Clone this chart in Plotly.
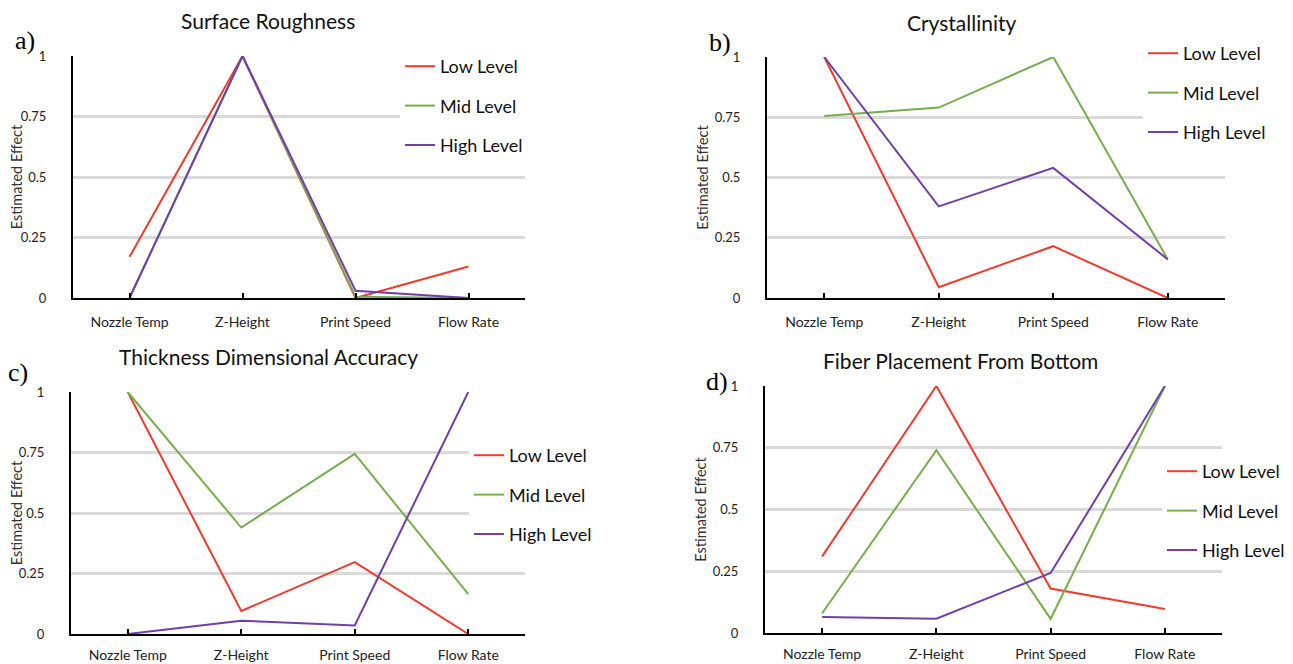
import plotly.graph_objects as go

categories = ["Nozzle Temp", "Z-Height", "Print Speed", "Flow Rate"]
series_names = ["Low Level", "Mid Level", "High Level"]
y_ticks = [0, 0.25, 0.5, 0.75, 1]
y_tick_labels = ["0", "0.25", "0.5", "0.75", "1"]

titles = ["Surface Roughness", "Crystallinity", "Thickness Dimensional Accuracy", "Fiber Placement From Bottom"]
panel_labels = ["a)", "b)", "c)", "d)"]

# Surface Roughness
a_low = [0.17, 1.0, 0.0, 0.13]
a_mid = [0.0, 1.0, 0.005, 0.0]
a_high = [0.0, 1.0, 0.03, 0.0]
# Crystallinity
b_low = [1.0, 0.045, 0.215, 0.0]
b_mid = [0.755, 0.79, 1.0, 0.16]
b_high = [1.0, 0.38, 0.54, 0.16]
# Thickness Dimensional Accuracy
c_low = [1.0, 0.095, 0.297, 0.0]
c_mid = [1.0, 0.44, 0.744, 0.165]
c_high = [0.0, 0.055, 0.035, 1.0]
# Fiber Placement From Bottom
d_low = [0.31, 1.0, 0.18, 0.097]
d_mid = [0.08, 0.74, 0.057, 1.0]
d_high = [0.065, 0.058, 0.243, 1.0]

panel_data = [
    (a_low, a_mid, a_high),
    (b_low, b_mid, b_high),
    (c_low, c_mid, c_high),
    (d_low, d_mid, d_high),
]

colors = ["#ef3b30", "#77ad4f", "#7040a6"]

# page has an 8px body margin: shift everything by -8 px
OFF = 8
W, H = 1293 - OFF, 664 - OFF
# pixel geometry (screen px) of each panel: x_left, x_right, y_top(value 1), y_bottom(value 0)
geom = [
    (73, 525, 56, 298),
    (767, 1225, 57, 298),
    (71, 525, 392, 634),
    (765, 1222, 386, 633),
]
xlabel_standoff = [10, 10, 7, 7]
# legend top-left (screen px)
legend_pos = [(400, 48), (1143, 35), (469, 437), (1162, 453)]
title_pos = [(268, 20), (962, 22), (268, 356), (960, 360)]
label_pos = [(25, 40), (720, 42), (18, 372), (717, 382)]


def fx(p):
    return (p - OFF) / W


def fy(p):
    return 1 - (p - OFF) / H


FONT = "Lato, Calibri, Carlito, Noto Sans, sans-serif"

fig = go.Figure()
layout = dict(
    width=W, height=H,
    margin=dict(l=0, r=0, t=0, b=0, autoexpand=False),
    paper_bgcolor="white", plot_bgcolor="white",
    showlegend=True,
    annotations=[],
)

xs = list(range(len(categories)))
for i, (data, (x0, x1, yt, yb)) in enumerate(zip(panel_data, geom)):
    n = "" if i == 0 else str(i + 1)
    xa = "x" + n
    ya = "y" + n
    leg = "legend" + n
    for j, (vals, name) in enumerate(zip(data, series_names)):
        fig.add_trace(go.Scatter(
            x=xs, y=vals, mode="lines", name=name,
            line=dict(color=colors[j], width=2),
            xaxis=xa, yaxis=ya, legend=leg,
            legendgroup=f"{i}-{j}", cliponaxis=False,
            hoverinfo="skip",
        ))
    layout["xaxis" + n] = dict(
        domain=[fx(x0), fx(x1)], anchor=ya,
        range=[-0.5, len(categories) - 0.5],
        tickvals=xs + [len(categories) - 0.5],
        ticktext=categories + [""],
        ticks="inside", ticklen=5, tickcolor="black", tickwidth=1.5,
        showline=True, linecolor="black", linewidth=2,
        showgrid=False, zeroline=False, automargin=False,
        tickfont=dict(family=FONT, size=14, color="#222"),
        ticklabelstandoff=xlabel_standoff[i],
        fixedrange=True,
    )
    layout["yaxis" + n] = dict(
        domain=[fy(yb), fy(yt)], anchor=xa,
        range=[0, 1],
        tickvals=y_ticks, ticktext=y_tick_labels,
        ticks="", showline=True, linecolor="black", linewidth=2,
        showgrid=True, gridcolor="#d9d9d9", gridwidth=2.5,
        zeroline=False, automargin=False,
        tickfont=dict(family=FONT, size=13, color="#222"),
        ticklabelstandoff=22,
        title=dict(text="Estimated Effect", font=dict(family=FONT, size=14.5, color="#333"), standoff=3),
        fixedrange=True,
    )
    lx, ly = legend_pos[i]
    layout[leg] = dict(
        x=fx(lx), y=fy(ly), xanchor="left", yanchor="top",
        bgcolor="white", borderwidth=0,
        font=dict(family=FONT, size=18, color="#111"),
        tracegroupgap=13, itemclick=False, itemdoubleclick=False,
    )
    tx, ty = title_pos[i]
    layout["annotations"].append(dict(
        text=titles[i], x=fx(tx), y=fy(ty), xref="paper", yref="paper",
        xanchor="center", yanchor="middle", showarrow=False,
        font=dict(family=FONT, size=21, color="#111"),
    ))
    px, py = label_pos[i]
    layout["annotations"].append(dict(
        text=panel_labels[i], x=fx(px), y=fy(py), xref="paper", yref="paper",
        xanchor="center", yanchor="middle", showarrow=False,
        font=dict(family="Liberation Serif, Times New Roman, serif", size=26, color="#000"),
    ))

fig.update_layout(**layout)
fig.write_html("out.html")
